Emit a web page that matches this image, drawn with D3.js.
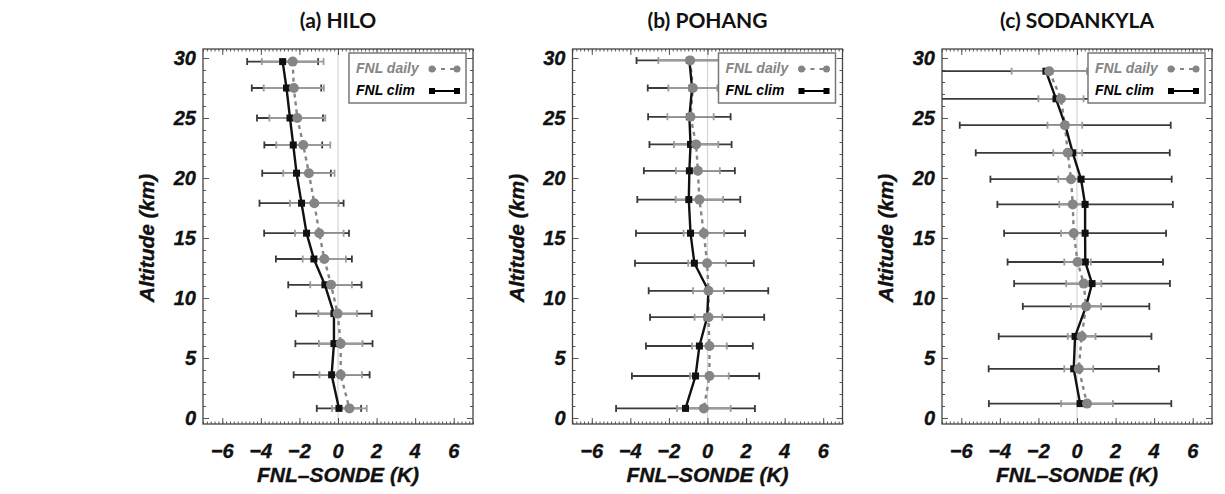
<!DOCTYPE html>
<html><head><meta charset="utf-8">
<script src="https://cdn.jsdelivr.net/npm/d3@7"></script>
<style>
body{margin:0;background:#fff;}
svg{display:block;}
</style></head><body>
<svg id="chart" width="1225" height="494"></svg>
<script>
// ---------- data ----------
const panelTitles = ["(a) HILO", "(b) POHANG", "(c) SODANKYLA"];
const xTickValues = [-6, -4, -2, 0, 2, 4, 6];
const yTickValues = [0, 5, 10, 15, 20, 25, 30];
const legendLabels = ["FNL daily", "FNL clim"];

// (a) HILO
const altA      = [29.7, 27.5, 25.0, 22.75, 20.4, 17.9, 15.4, 13.25, 11.1, 8.7, 6.2, 3.6, 0.8];
const climA     = [-2.87, -2.67, -2.49, -2.32, -2.15, -1.89, -1.63, -1.25, -0.68, -0.21, -0.21, -0.33, 0.05];
const dailyA    = [-2.35, -2.29, -2.11, -1.80, -1.51, -1.23, -0.97, -0.71, -0.36, -0.02, 0.14, 0.14, 0.59];
const climSdA   = [1.84, 1.80, 1.71, 1.50, 1.78, 2.18, 2.20, 1.97, 1.90, 1.96, 2.00, 1.97, 1.15];
const dailySdA  = [1.60, 1.56, 1.45, 1.40, 1.33, 1.26, 1.26, 1.12, 1.08, 1.00, 1.13, 1.10, 0.90];

// (b) POHANG
const altB      = [29.8, 27.5, 25.1, 22.8, 20.6, 18.2, 15.4, 12.9, 10.6, 8.4, 6.0, 3.5, 0.8];
const climB     = [-0.94, -0.80, -0.94, -0.88, -0.94, -0.97, -0.88, -0.68, 0.05, -0.02, -0.42, -0.62, -1.14];
const dailyB    = [-0.90, -0.76, -0.88, -0.59, -0.50, -0.42, -0.19, -0.02, 0.05, 0.05, 0.10, 0.10, -0.19];
const climSdB   = [2.74, 2.30, 2.14, 2.13, 2.36, 2.67, 2.83, 3.08, 3.10, 2.96, 2.77, 3.30, 3.60];
const dailySdB  = [1.65, 1.27, 1.20, 1.15, 1.14, 1.23, 1.05, 0.98, 0.80, 0.72, 0.90, 1.00, 1.39];

// (c) SODANKYLA
const altC      = [28.9, 26.6, 24.4, 22.1, 19.9, 17.8, 15.4, 13.0, 11.2, 9.3, 6.8, 4.1, 1.2];
const climC     = [-1.61, -1.09, -0.61, -0.22, 0.21, 0.42, 0.42, 0.43, 0.78, 0.47, -0.10, -0.17, 0.16];
const dailyC    = [-1.44, -0.83, -0.63, -0.48, -0.31, -0.22, -0.17, 0.03, 0.35, 0.47, 0.24, 0.09, 0.52];
const climSdC   = [6.50, 6.50, 5.47, 5.03, 4.70, 4.55, 4.20, 4.03, 4.04, 3.28, 3.96, 4.41, 4.73];
const dailySdC  = [1.95, 1.17, 0.90, 0.75, 0.66, 0.70, 0.66, 0.69, 0.91, 0.78, 0.72, 0.75, 1.34];

const panels = [
  {title: panelTitles[0], alt: altA, clim: climA, daily: dailyA, climSd: climSdA, dailySd: dailySdA},
  {title: panelTitles[1], alt: altB, clim: climB, daily: dailyB, climSd: climSdB, dailySd: dailySdB},
  {title: panelTitles[2], alt: altC, clim: climC, daily: dailyC, climSd: climSdC, dailySd: dailySdC}
];

// ---------- layout ----------
const svg = d3.select("#chart");
const W = 270, plotTop = 49, plotBottom = 424;
const lefts = [203, 572.5, 942];
const tickFont = "'Liberation Sans', Arial, sans-serif";
const climCol = "#111", dailyCol = "#858585";
const climBarCol = "#3a3a3a", dailyBarCol = "#9a9a9a";
const H = plotBottom - plotTop;

const x = d3.scaleLinear().domain([-7, 7]).range([0, W]);
const y = d3.scaleLinear().domain([-0.5, 30.75]).range([H, 0]);

function boldItalic(sel, size, col) {
  return sel.style("font-family", tickFont).style("font-weight", "bold").style("font-style", "italic")
    .style("font-size", size + "px").attr("fill", col).attr("stroke", col).attr("stroke-width", 0.35);
}

panels.forEach((p, i) => {
  const g = svg.append("g").attr("transform", `translate(${lefts[i]},${plotTop})`);
  const cx = lefts[i] + x(0);

  // title
  svg.append("text").attr("x", cx).attr("y", 28).attr("text-anchor", "middle")
    .style("font-family", "Lato, 'Open Sans', sans-serif").style("font-weight", "bold")
    .style("font-size", "21px").attr("fill", "#111").text(p.title);

  // clip
  svg.append("clipPath").attr("id", "clip" + i)
    .append("rect").attr("x", 0).attr("y", 0).attr("width", W).attr("height", H);

  // zero line
  g.append("line").attr("x1", x(0)).attr("x2", x(0)).attr("y1", 0).attr("y2", H)
    .attr("stroke", "#d6d6d6").attr("stroke-width", 1.2);

  // axes ticks (inward), all four sides
  const xMinor = d3.range(-7, 7.001, 0.2).map(v => +v.toFixed(2));
  const yMinor = d3.range(0, 31, 1);
  const axB = d3.axisBottom(x).tickValues(xTickValues).tickSize(-6).tickFormat("");
  const axBm = d3.axisBottom(x).tickValues(xMinor).tickSize(-2.5).tickFormat("");
  const axT = d3.axisTop(x).tickValues(xTickValues).tickSize(-6).tickFormat("");
  const axTm = d3.axisTop(x).tickValues(xMinor).tickSize(-2.5).tickFormat("");
  const axL = d3.axisLeft(y).tickValues(yTickValues).tickSize(-6).tickFormat("");
  const axLm = d3.axisLeft(y).tickValues(yMinor).tickSize(-3).tickFormat("");
  const axR = d3.axisRight(y).tickValues(yTickValues).tickSize(-6).tickFormat("");
  const axRm = d3.axisRight(y).tickValues(yMinor).tickSize(-3).tickFormat("");
  [[axBm, `translate(0,${H})`], [axB, `translate(0,${H})`], [axTm, "translate(0,0)"], [axT, "translate(0,0)"],
   [axLm, "translate(0,0)"], [axL, "translate(0,0)"], [axRm, `translate(${W},0)`], [axR, `translate(${W},0)`]]
   .forEach(([ax, tr]) => {
     const a = g.append("g").attr("transform", tr).call(ax);
     a.select(".domain").remove();
     a.selectAll("line").attr("stroke", "#555").attr("stroke-width", 1);
   });

  // tick labels
  boldItalic(g.selectAll(".xl").data(xTickValues).enter().append("text")
    .attr("x", v => x(v)).attr("y", H + 34).attr("text-anchor", "middle"), 20, "#111")
    .text(v => v < 0 ? "\u2212" + Math.abs(v) : v);
  boldItalic(g.selectAll(".yl").data(yTickValues).enter().append("text")
    .attr("x", -7).attr("y", v => y(v) + 7).attr("text-anchor", "end"), 20, "#111")
    .text(v => v);

  // axis titles
  boldItalic(g.append("text").attr("x", x(0)).attr("y", H + 58).attr("text-anchor", "middle"), 21, "#111")
    .text("FNL\u2013SONDE (K)");
  boldItalic(g.append("text").attr("transform", `translate(-49,${y(15)}) rotate(-90)`).attr("text-anchor", "middle"), 21, "#111")
    .text("Altitude (km)");

  // data layer
  const d = g.append("g").attr("clip-path", `url(#clip${i})`);
  const rows = p.alt.map((a, k) => ({a, c: p.clim[k], dl: p.daily[k], cs: p.climSd[k], ds: p.dailySd[k]}));

  function bars(key, sdKey, col, w) {
    const bg = d.append("g").attr("stroke", col).attr("stroke-width", w);
    rows.forEach(r => {
      const lo = x(r[key] - r[sdKey]), hi = x(r[key] + r[sdKey]), yy = y(r.a);
      bg.append("line").attr("x1", lo).attr("x2", hi).attr("y1", yy).attr("y2", yy);
      bg.append("line").attr("x1", lo).attr("x2", lo).attr("y1", yy - 3.5).attr("y2", yy + 3.5);
      bg.append("line").attr("x1", hi).attr("x2", hi).attr("y1", yy - 3.5).attr("y2", yy + 3.5);
    });
  }
  bars("c", "cs", climBarCol, 1.8);
  bars("dl", "ds", dailyBarCol, 1.8);

  const lineC = d3.line().x(r => x(r.c)).y(r => y(r.a));
  const lineD = d3.line().x(r => x(r.dl)).y(r => y(r.a));
  d.append("path").datum(rows).attr("d", lineD).attr("fill", "none")
    .attr("stroke", dailyCol).attr("stroke-width", 2.4).attr("stroke-dasharray", "4,4");
  d.append("path").datum(rows).attr("d", lineC).attr("fill", "none")
    .attr("stroke", climCol).attr("stroke-width", 2.4);
  d.selectAll(".sq").data(rows).enter().append("rect")
    .attr("x", r => x(r.c) - 3.5).attr("y", r => y(r.a) - 3.5).attr("width", 7).attr("height", 7)
    .attr("fill", climCol);
  d.selectAll(".ci").data(rows).enter().append("circle")
    .attr("cx", r => x(r.dl)).attr("cy", r => y(r.a)).attr("r", 5).attr("fill", dailyCol);

  // frame
  g.append("rect").attr("x", 0).attr("y", 0).attr("width", W).attr("height", H)
    .attr("fill", "none").attr("stroke", "#444").attr("stroke-width", 1.3);

  // legend
  const lg = g.append("g").attr("transform", "translate(146,4)");
  lg.append("rect").attr("width", 117).attr("height", 50).attr("fill", "#fff")
    .attr("stroke", "#777").attr("stroke-width", 1.5);
  lg.append("text").attr("x", 7).attr("y", 20).text(legendLabels[0])
    .style("font-family", tickFont).style("font-weight", "bold").style("font-style", "italic")
    .style("font-size", "14px").attr("fill", dailyCol);
  lg.append("text").attr("x", 7).attr("y", 42).text(legendLabels[1])
    .style("font-family", tickFont).style("font-weight", "bold").style("font-style", "italic")
    .style("font-size", "14px").attr("fill", "#000");
  lg.append("line").attr("x1", 83).attr("x2", 108).attr("y1", 16).attr("y2", 16)
    .attr("stroke", dailyCol).attr("stroke-width", 2).attr("stroke-dasharray", "4,5");
  [83, 108].forEach(xx => lg.append("circle").attr("cx", xx).attr("cy", 16).attr("r", 3.5).attr("fill", dailyCol));
  lg.append("line").attr("x1", 83).attr("x2", 108).attr("y1", 38).attr("y2", 38)
    .attr("stroke", "#000").attr("stroke-width", 2);
  [83, 108].forEach(xx => lg.append("rect").attr("x", xx - 3).attr("y", 35).attr("width", 6).attr("height", 6).attr("fill", "#000"));
});
</script>
</body></html>
